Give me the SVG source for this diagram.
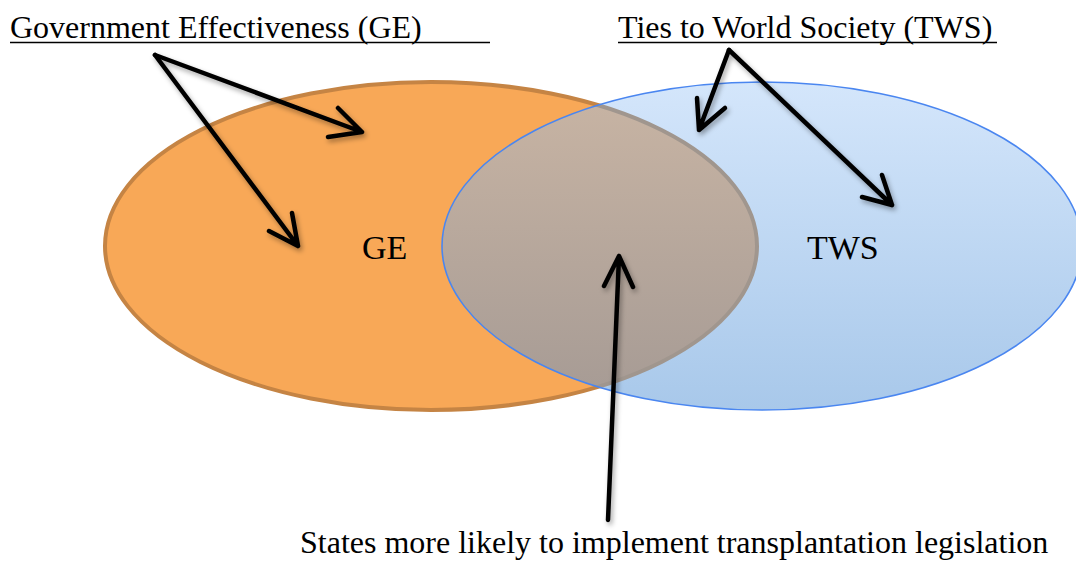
<svg xmlns="http://www.w3.org/2000/svg" width="1076" height="561" viewBox="0 0 1076 561">
  <defs>
    <style>
      .title { font-family: "Liberation Serif", "Times New Roman", serif; font-size: 32px; fill: #000; }
      .label { font-family: "Liberation Serif", "Times New Roman", serif; font-size: 34px; fill: #000; }
      .uline { stroke: #000; stroke-width: 1.5; }
      .arrow { fill: none; stroke: #000; stroke-width: 4.5; stroke-linecap: round; stroke-linejoin: round; }
    </style>
    <linearGradient id="blueFill" x1="0" y1="0" x2="0" y2="1">
      <stop offset="0" stop-color="#d4e6fb"/>
      <stop offset="1" stop-color="#a8c8ea"/>
    </linearGradient>
    <linearGradient id="overlapFill" x1="0" y1="0" x2="0" y2="1">
      <stop offset="0" stop-color="#c9b5a4"/>
      <stop offset="1" stop-color="#a59a94"/>
    </linearGradient>
    <clipPath id="insideGE">
      <ellipse cx="431" cy="246" rx="326" ry="164"/>
    </clipPath>
    <clipPath id="insideTWS">
      <ellipse cx="762" cy="246" rx="320" ry="164"/>
    </clipPath>
    <filter id="shadow" x="-20%" y="-20%" width="140%" height="140%">
      <feDropShadow dx="2" dy="3" stdDeviation="2.5" flood-color="#000" flood-opacity="0.35"/>
    </filter>
  </defs>

  <rect width="1076" height="561" fill="#fff"/>

  <!-- Government Effectiveness set -->
  <g id="node-ge">
    <ellipse cx="431" cy="246" rx="326" ry="164" fill="#f8a857" stroke="#c58444" stroke-width="4"/>
  </g>

  <!-- Ties to World Society set -->
  <g id="node-tws">
    <ellipse cx="762" cy="246" rx="320" ry="164" fill="url(#blueFill)"/>
  </g>

  <!-- Intersection of both sets -->
  <g id="node-overlap">
    <ellipse cx="762" cy="246" rx="320" ry="164" fill="url(#overlapFill)" clip-path="url(#insideGE)"/>
    <ellipse cx="431" cy="246" rx="326" ry="164" fill="none" stroke="#a0968e" stroke-width="4" clip-path="url(#insideTWS)"/>
    <ellipse cx="762" cy="246" rx="320" ry="164" fill="none" stroke="#4a86f0" stroke-width="1.6"/>
  </g>

  <g id="node-ge-label">
    <text class="label" x="362" y="259">GE</text>
  </g>
  <g id="node-tws-label">
    <text class="label" x="807" y="259">TWS</text>
  </g>

  <g id="node-title-ge">
    <text class="title" x="10" y="38">Government Effectiveness (GE)</text>
    <line class="uline" x1="10" y1="42.5" x2="490" y2="42.5"/>
  </g>
  <g id="node-title-tws">
    <text class="title" x="618" y="38">Ties to World Society (TWS)</text>
    <line class="uline" x1="618" y1="42.5" x2="997" y2="42.5"/>
  </g>
  <g id="node-outcome">
    <text class="title" x="300" y="553">States more likely to implement transplantation legislation</text>
  </g>

  <!-- Connectors -->
  <g id="connectors" filter="url(#shadow)">
    <path class="arrow" d="M155,55 L362,132 M338,108 L362,132 L328,137"/>
    <path class="arrow" d="M155,55 L298,246 M292,213 L298,246 L269,231"/>
    <path class="arrow" d="M729,50 L699,130 M697,98 L699,130 L725,108"/>
    <path class="arrow" d="M729,50 L892,205 M882,175 L892,205 L862,197"/>
    <path class="arrow" d="M608,520 L619,256 M604,286 L619,256 L633,287"/>
  </g>
</svg>
